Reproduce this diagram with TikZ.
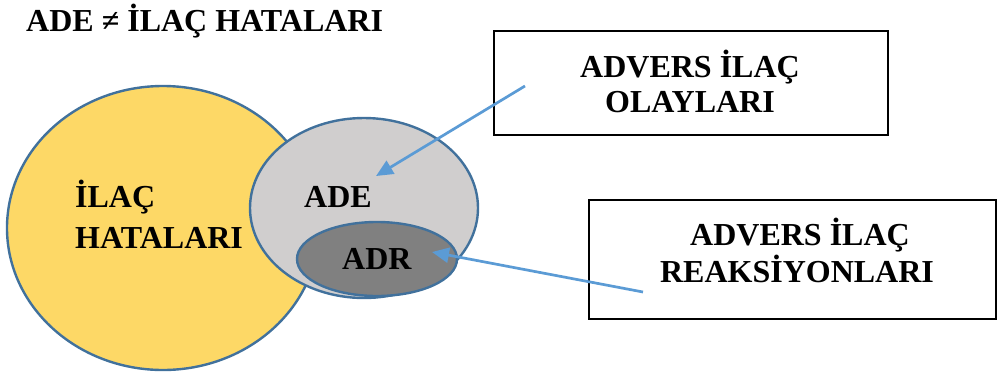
\documentclass[tikz,border=0pt]{standalone}
\usepackage{fontspec}
\setmainfont{Liberation Serif}
\usetikzlibrary{shapes.geometric,arrows.meta}
\definecolor{gold}{HTML}{FDD866}
\definecolor{edgeblue}{HTML}{41719C}
\definecolor{lightgr}{HTML}{D0CECE}
\definecolor{darkgr}{HTML}{808080}
\definecolor{arrowblue}{HTML}{5B9BD5}
\tikzset{
  blob/.style={ellipse, draw=edgeblue, line width=2.4pt, inner sep=0pt},
  txt/.style={font=\fontsize{32}{38}\selectfont\bfseries, inner sep=0pt},
  labelbox/.style={draw=black, line width=2.2pt, inner sep=0pt},
  pointer/.style={draw=arrowblue, line width=2.7pt, -{Triangle[length=17pt,width=15pt]}}
}
\begin{document}
\begin{tikzpicture}[x=1pt,y=-1pt]
\useasboundingbox (0,0) rectangle (997,373);
% ellipses
\node[blob, fill=gold, minimum width=312pt, minimum height=284pt] (hata) at (163,228) {};
\node[blob, fill=lightgr, minimum width=228pt, minimum height=180pt] (ade) at (364,208) {};
\node[blob, fill=darkgr, minimum width=160pt, minimum height=74pt] (adr) at (377,259) {};
% title
\node[txt, anchor=base west] (title) at (26,31) {ADE ≠ İLAÇ HATALARI};
% inner labels
\node[txt, anchor=base west] (hatatxt) at (75,207) {İLAÇ};
\node[txt, anchor=base west] (hatatxt2) at (75,248) {HATALARI};
\node[txt, anchor=base west] (adetxt) at (304,207) {ADE};
\node[txt, anchor=base west] (adrtxt) at (342,269) {ADR};
% boxes
\node[labelbox, minimum width=394pt, minimum height=104pt] (box1) at (691,83) {};
\node[txt, anchor=base] (b1l1) at (690,77) {ADVERS İLAÇ};
\node[txt, anchor=base] (b1l2) at (690,112) {OLAYLARI};
\node[labelbox, minimum width=407pt, minimum height=119pt] (box2) at (792.5,259.5) {};
\node[txt, anchor=base] (b2l1) at (800,245) {ADVERS İLAÇ};
\node[txt, anchor=base] (b2l2) at (797,282) {REAKSİYONLARI};
% arrows
\coordinate (a1s) at (525,86);
\coordinate (a1e) at (376,176);
\coordinate (a2s) at (643,292);
\coordinate (a2e) at (432,252);
\draw[pointer] (a1s) -- (a1e);
\draw[pointer] (a2s) -- (a2e);
\end{tikzpicture}
\end{document}
